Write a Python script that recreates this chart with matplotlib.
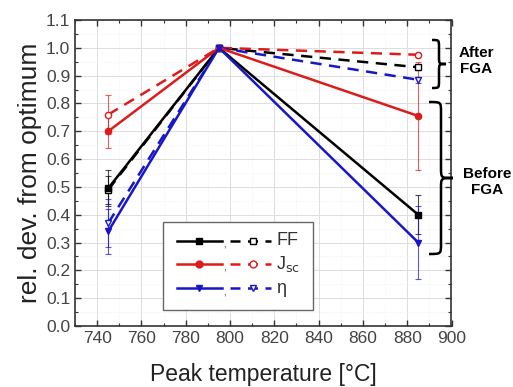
import matplotlib
matplotlib.use("Agg")
import matplotlib.pyplot as plt
from matplotlib.path import Path
from matplotlib.patches import PathPatch, Rectangle
from matplotlib.ticker import MultipleLocator

plt.rcParams['font.family'] = ['Liberation Sans', 'DejaVu Sans']

# peak firing temperatures
temps = [745, 795, 885]

# relative deviation from optimum, before (solid) and after (dashed) FGA
ff_before = [0.495, 1.0, 0.40]
ff_before_err = [0.065, 0.0, 0.07]
ff_after = [0.49, 1.0, 0.93]
ff_after_err = [0.05, 0.0, 0.01]

jsc_before = [0.70, 1.0, 0.755]
jsc_before_err = [0.06, 0.0, 0.195]
jsc_after = [0.76, 1.0, 0.975]
jsc_after_err = [0.07, 0.0, 0.005]

eta_before = [0.34, 1.0, 0.30]
eta_before_err = [0.08, 0.0, 0.13]
eta_after = [0.37, 1.0, 0.885]
eta_after_err = [0.085, 0.0, 0.01]

labels = ['FF', r'J$_{\mathrm{sc}}$', 'η']
colors = ['black', '#dd1b1b', '#1717c8']
markers = ['s', 'o', 'v']

W, H = 513, 387
fig = plt.figure(figsize=(W / 100, H / 100), dpi=100)
ax = fig.add_axes([75 / W, 1 - 326 / H, 376.5 / W, 306 / H])

series = [
    (ff_before, ff_before_err, ff_after, ff_after_err),
    (jsc_before, jsc_before_err, jsc_after, jsc_after_err),
    (eta_before, eta_before_err, eta_after, eta_after_err),
]

for (yb, eb, ya, ea), c, m in zip(series, colors, markers):
    ax.errorbar(temps, ya, yerr=ea, fmt='none', ecolor=c, elinewidth=0.8,
                capsize=2.5, capthick=0.8, alpha=0.7, zorder=3)
    ax.errorbar(temps, yb, yerr=eb, fmt='none', ecolor=c, elinewidth=0.8,
                capsize=2.5, capthick=0.8, alpha=0.7, zorder=3)
    ax.plot(temps, ya, color=c, lw=1.8, ls=(0, (4.5, 3)), marker=m, ms=4.5,
            mfc='white', mec=c, mew=1, zorder=4)
    ax.plot(temps, yb, color=c, lw=1.8, marker=m, ms=4.5, mfc=c, mec=c, zorder=5)

ax.set_xlim(730, 900)
ax.set_ylim(0, 1.1)
ax.xaxis.set_major_locator(MultipleLocator(20))
ax.xaxis.set_minor_locator(MultipleLocator(10))
ax.yaxis.set_major_locator(MultipleLocator(0.1))
ax.yaxis.set_minor_locator(MultipleLocator(0.05))
ax.tick_params(which='both', direction='in', top=True, right=True,
               colors='#333333', labelcolor='#444444', labelsize=12.5)
ax.tick_params(which='major', length=4, width=1)
ax.tick_params(which='minor', length=2.5, width=0.8)
ax.grid(which='major', color='#dddddd', lw=0.7)
ax.grid(which='minor', color='#efefef', lw=0.6, ls=':')
ax.set_axisbelow(True)
for s in ax.spines.values():
    s.set_color('#333333')
    s.set_linewidth(1.2)

ax.set_xlabel('Peak temperature [°C]', fontsize=16.5, color='#222222', labelpad=12)
ax.set_ylabel('rel. dev. from optimum', fontsize=19, color='#222222', labelpad=3)

# hand-made legend: solid (before) , dashed (after)
ax.add_patch(Rectangle((0.234, 0.052), 0.398, 0.288, transform=ax.transAxes,
                       fill=True, fc='white', ec='#666666', lw=1, zorder=6))
rows = [0.278, 0.2016, 0.123]
for y, c, m, lab in zip(rows, colors, markers, labels):
    ax.plot([0.270, 0.390], [y, y], transform=ax.transAxes, color=c, lw=1.8, zorder=7)
    ax.plot([0.330], [y], transform=ax.transAxes, marker=m, ms=5, color=c, zorder=8)
    ax.text(0.393, y - 0.012, ',', transform=ax.transAxes, fontsize=7,
            color='#333333', va='center', ha='left', zorder=8)
    ax.plot([0.412, 0.520], [y, y], transform=ax.transAxes, color=c, lw=1.8,
            ls=(0, (4, 3)), zorder=7)
    ax.plot([0.473], [y], transform=ax.transAxes, marker=m, ms=5, mfc='white',
            mec=c, mew=1, ls='none', zorder=8)
    ax.text(0.535, y, lab, transform=ax.transAxes, fontsize=13,
            color='#333333', va='center', ha='left', zorder=8)


def brace(xl, xt, ytop, ybot, ymid, r=7):
    # curly brace "}" in pixel coordinates (y measured from top)
    xm = (xl + xt) / 2
    pts = [(xl, ytop), (xm, ytop), (xm, ytop), (xm, ytop + r),
           (xm, ymid - r),
           (xm, ymid), (xm, ymid), (xt, ymid),
           (xm, ymid), (xm, ymid), (xm, ymid + r),
           (xm, ybot - r),
           (xm, ybot), (xm, ybot), (xl, ybot)]
    codes = [Path.MOVETO, Path.CURVE4, Path.CURVE4, Path.CURVE4,
             Path.LINETO,
             Path.CURVE4, Path.CURVE4, Path.CURVE4,
             Path.CURVE4, Path.CURVE4, Path.CURVE4,
             Path.LINETO,
             Path.CURVE4, Path.CURVE4, Path.CURVE4]
    pts = [(x / W, 1 - y / H) for x, y in pts]
    fig.add_artist(PathPatch(Path(pts, codes), transform=fig.transFigure,
                             fill=False, ec='black', lw=1.8))


brace(432, 446, 40, 88, 64)
brace(429, 453, 102, 254, 178, r=10)
fig.text(476 / W, 1 - 61 / H, 'After\nFGA', ha='center', va='center',
         fontsize=11, fontweight='bold', linespacing=1.2)
fig.text(487 / W, 1 - 182 / H, 'Before\nFGA', ha='center', va='center',
         fontsize=11, fontweight='bold', linespacing=1.2)

fig.savefig('out.png', dpi=100)
